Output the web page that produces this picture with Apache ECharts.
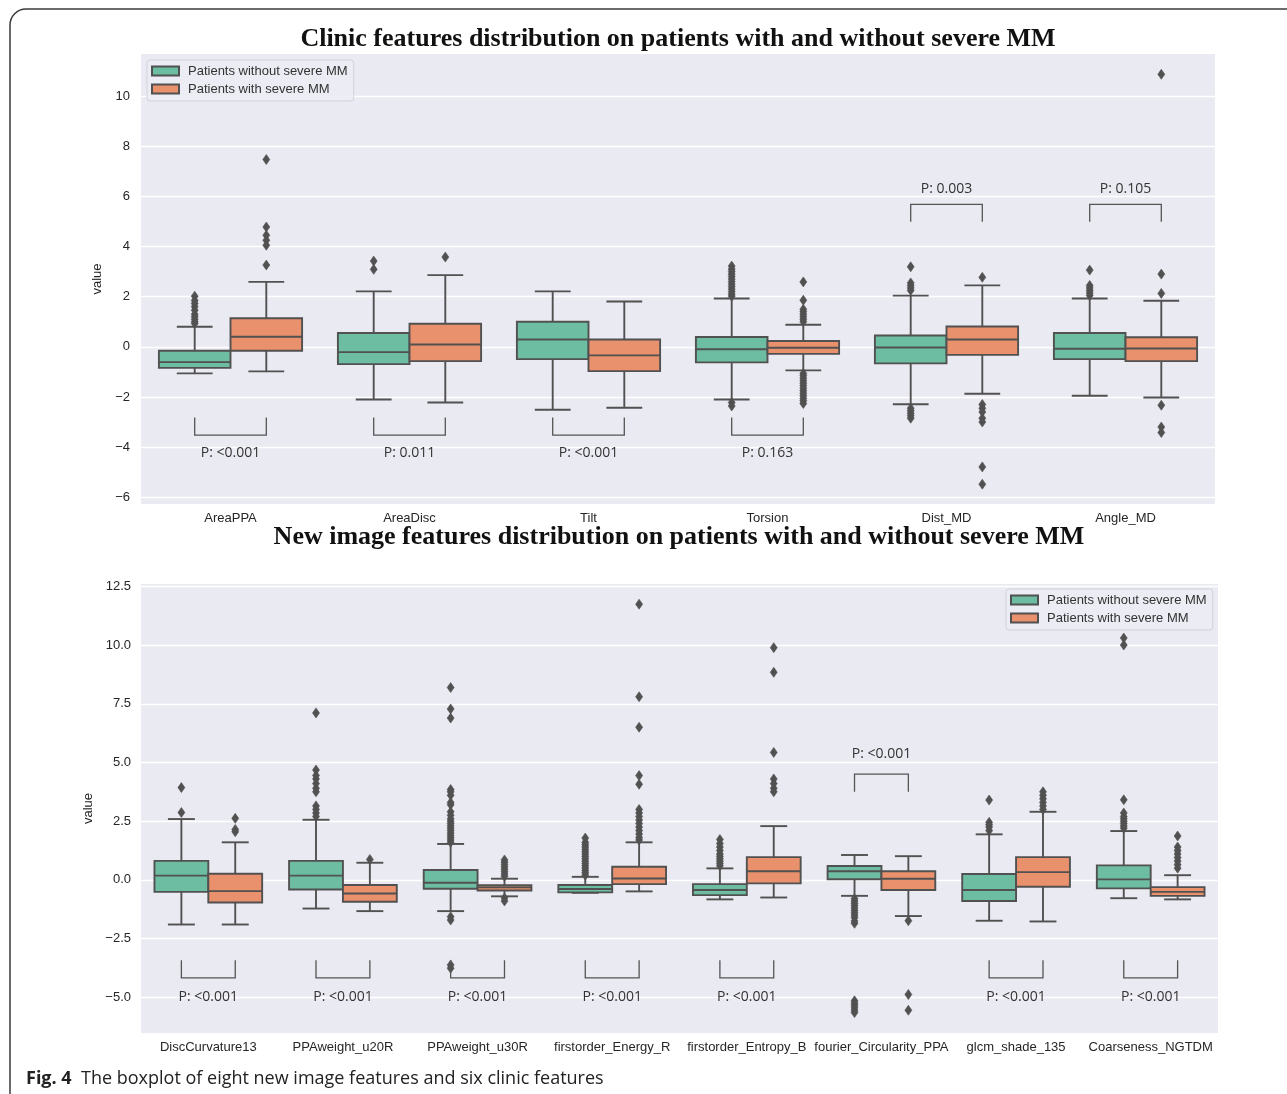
<!DOCTYPE html>
<html><head><meta charset="utf-8">
<script src="https://cdn.jsdelivr.net/npm/echarts@6/dist/echarts.min.js"></script>
<style>html,body{margin:0;padding:0;background:#fff}#c{width:1287px;height:1094px}</style>
</head><body><div id="c"></div>
<script>
// ---------- DATA ----------
const clinicCategories = ['AreaPPA','AreaDisc','Tilt','Torsion','Dist_MD','Angle_MD'];
// [lower whisker, Q1, median, Q3, upper whisker]
const clinicWithout = [
  [-1.06,-0.84,-0.61,-0.16,0.80],
  [-2.10,-0.69,-0.21,0.55,2.21],
  [-2.51,-0.49,0.29,1.00,2.21],
  [-2.10,-0.62,-0.10,0.39,1.93],
  [-2.29,-0.66,-0.03,0.45,2.04],
  [-1.95,-0.49,-0.08,0.55,1.93]
];
const clinicWith = [
  [-0.98,-0.16,0.40,1.14,2.59],
  [-2.22,-0.57,0.09,0.92,2.86],
  [-2.43,-0.97,-0.34,0.29,1.81],
  [-0.94,-0.28,-0.04,0.23,0.88],
  [-1.87,-0.32,0.29,0.81,2.45],
  [-2.02,-0.57,-0.07,0.38,1.84]
];
const clinicWithoutOutliers = [
  [2.02,1.85,1.73,1.6,1.46,1.3,1.2,1.1,1.0,0.93],
  [3.42,3.09],
  [],
  [3.22,3.1,3.0,2.9,2.8,2.7,2.6,2.5,2.4,2.3,2.2,2.1,2.02,-2.22,-2.36],
  [3.19,2.55,2.45,2.35,2.25,-2.45,-2.55,-2.65,-2.75,-2.85],
  [3.06,2.45,2.35,2.25,2.15,2.05]
];
const clinicWithOutliers = [
  [7.47,4.78,4.45,4.25,4.05,3.26],
  [3.58],
  [],
  [2.59,1.86,1.5,1.4,1.3,1.2,1.1,1.0,-1.06,-1.15,-1.25,-1.35,-1.45,-1.55,-1.65,-1.75,-1.85,-1.95,-2.05,-2.15,-2.26],
  [2.77,-2.3,-2.45,-2.6,-2.85,-3.0,-4.79,-5.48],
  [10.87,2.90,2.13,-2.33,-3.2,-3.42]
];
const clinicPValues = ['P: <0.001','P: 0.011','P: <0.001','P: 0.163','P: 0.003','P: 0.105'];
const clinicYTicks = [-6,-4,-2,0,2,4,6,8,10];

const imageCategories = ['DiscCurvature13','PPAweight_u20R','PPAweight_u30R','firstorder_Energy_R','firstorder_Entropy_B','fourier_Circularity_PPA','glcm_shade_135','Coarseness_NGTDM'];
const imageWithout = [
  [-1.90,-0.51,0.18,0.81,2.59],
  [-1.22,-0.41,0.18,0.81,2.56],
  [-1.33,-0.38,-0.12,0.42,1.53],
  [-0.55,-0.53,-0.39,-0.22,0.13],
  [-0.83,-0.65,-0.43,-0.18,0.49],
  [-0.68,0.03,0.37,0.59,1.06],
  [-1.74,-0.90,-0.43,0.25,1.94],
  [-0.78,-0.36,0.02,0.62,2.08]
];
const imageWith = [
  [-1.90,-0.96,-0.48,0.26,1.60],
  [-1.33,-0.93,-0.58,-0.22,0.73],
  [-0.70,-0.45,-0.32,-0.23,0.05],
  [-0.49,-0.18,0.06,0.56,1.60],
  [-0.75,-0.15,0.37,0.97,2.29],
  [-1.54,-0.43,0.05,0.37,1.01],
  [-1.77,-0.29,0.33,0.97,2.90],
  [-0.83,-0.68,-0.51,-0.31,0.20]
];
const imageWithoutOutliers = [
  [3.93,2.87],
  [7.11,4.68,4.45,4.3,4.1,3.9,3.75,3.15,3.0,2.85,2.7],
  [8.19,7.28,6.89,3.85,3.75,3.6,3.3,3.2,2.9,2.75,2.6,2.5,2.4,2.3,2.2,2.1,2.0,1.9,1.8,1.7,1.6,-1.57,-1.71,-3.62,-3.76],
  [1.78,1.6,1.5,1.4,1.3,1.2,1.1,1.0,0.9,0.8,0.7,0.6,0.5,0.4,0.3,0.2],
  [1.72,1.55,1.4,1.25,1.1,1.0,0.9,0.8,0.7,0.6],
  [-0.8,-0.9,-1.0,-1.1,-1.2,-1.3,-1.4,-1.5,-1.6,-1.75,-1.85,-5.15,-5.25,-5.35,-5.45,-5.55,-5.65],
  [3.40,2.45,2.35,2.25,2.1],
  [10.3,10.0,3.41,2.85,2.7,2.6,2.5,2.4,2.3,2.2]
];
const imageWithOutliers = [
  [2.62,2.15,2.05],
  [0.87],
  [0.85,0.75,0.65,0.55,0.45,0.35,0.25,0.15,-0.77,-0.9],
  [11.74,7.80,6.50,4.44,4.07,3.0,2.85,2.7,2.55,2.4,2.25,2.1,1.95,1.8,1.7],
  [9.89,8.84,5.43,4.3,4.1,3.9,3.75],
  [-1.74,-4.88,-5.55],
  [3.75,3.6,3.45,3.3,3.15,3.0],
  [1.87,1.4,1.25,1.1,0.95,0.8,0.65,0.5]
];
const imagePValues = ['P: <0.001','P: <0.001','P: <0.001','P: <0.001','P: <0.001','P: <0.001','P: <0.001','P: <0.001'];
const imageYTicks = [-5,-2.5,0,2.5,5,7.5,10,12.5];

const seriesNames = ['Patients without severe MM','Patients with severe MM'];

// ---------- LAYOUT / STYLE ----------
const GREEN = '#6dbda2', ORANGE = '#e9916c', EDGE = '#515151';
const clinicBracketSide = ['below','below','below','below','above','above'];
const imageBracketSide = ['below','below','below','below','below','above','below','below'];
const clinicLevels = {below:{tip:-2.82,bar:-3.52,text:-4.23}, above:{tip:4.99,bar:5.68,text:6.30}};
const imageLevels = {below:{tip:-3.42,bar:-4.17,text:-4.98}, above:{tip:3.75,bar:4.50,text:5.35}};

function boxRender(side){
  return function(params, api){
    const cat = api.value(0);
    const lo = api.coord([cat, api.value(1)]);
    const q1 = api.coord([cat, api.value(2)]);
    const md = api.coord([cat, api.value(3)]);
    const q3 = api.coord([cat, api.value(4)]);
    const hi = api.coord([cat, api.value(5)]);
    const band = api.size([1,0])[0];
    const bw = band*0.4;
    const cx = lo[0] + side*band*0.2;
    const x0 = cx - bw/2;
    const cap = bw*0.25;
    const ls = {stroke:EDGE, lineWidth:1.9};
    return {type:'group', children:[
      {type:'line', shape:{x1:cx,y1:q3[1],x2:cx,y2:hi[1]}, style:ls},
      {type:'line', shape:{x1:cx,y1:q1[1],x2:cx,y2:lo[1]}, style:ls},
      {type:'line', shape:{x1:cx-cap,y1:hi[1],x2:cx+cap,y2:hi[1]}, style:ls},
      {type:'line', shape:{x1:cx-cap,y1:lo[1],x2:cx+cap,y2:lo[1]}, style:ls},
      {type:'rect', shape:{x:x0,y:q3[1],width:bw,height:q1[1]-q3[1]}, style:{fill: side<0?GREEN:ORANGE, stroke:EDGE, lineWidth:1.9}},
      {type:'line', shape:{x1:x0,y1:md[1],x2:x0+bw,y2:md[1]}, style:ls}
    ]};
  };
}
function flierRender(side){
  return function(params, api){
    const c = api.coord([api.value(0), api.value(1)]);
    const band = api.size([1,0])[0];
    const x = c[0] + side*band*0.2, y = c[1];
    return {type:'polygon', shape:{points:[[x,y-5],[x+3.5,y],[x,y+5],[x-3.5,y]]}, style:{fill:EDGE, stroke:EDGE, lineWidth:0.6}};
  };
}
function annotRender(labels, sides, levels){
  return function(params, api){
    const i = api.value(0);
    const L = levels[sides[params.dataIndex]];
    const band = api.size([1,0])[0];
    const c = api.coord([i, L.bar]);
    const tip = api.coord([i, L.tip])[1];
    const ty = api.coord([i, L.text])[1];
    const xl = c[0]-band*0.2, xr = c[0]+band*0.2;
    return {type:'group', children:[
      {type:'polyline', shape:{points:[[xl,tip],[xl,c[1]],[xr,c[1]],[xr,tip]]}, style:{stroke:'#555', lineWidth:1.3, fill:null}},
      {type:'text', x:c[0], y:ty, style:{text:labels[params.dataIndex], align:'center', verticalAlign:'middle', fontSize:14, fontFamily:'Open Sans', fill:'#333'}}
    ]};
  };
}
function flat(outl){ const r=[]; outl.forEach((arr,i)=>arr.forEach(v=>r.push([i,v]))); return r; }

function chartSeries(g, without, withS, outW, outWith, pvals, sides, levels){
  return [
    {type:'custom', name:seriesNames[0], xAxisIndex:g, yAxisIndex:g, renderItem:boxRender(-1),
     itemStyle:{color:GREEN, borderColor:EDGE, borderWidth:1}, encode:{x:0,y:[1,2,3,4,5]},
     data:without.map((s,i)=>[i].concat(s)), z:3},
    {type:'custom', name:seriesNames[1], xAxisIndex:g, yAxisIndex:g, renderItem:boxRender(1),
     itemStyle:{color:ORANGE, borderColor:EDGE, borderWidth:1}, encode:{x:0,y:[1,2,3,4,5]},
     data:withS.map((s,i)=>[i].concat(s)), z:3},
    {type:'custom', name:'fliers-a'+g, xAxisIndex:g, yAxisIndex:g, renderItem:flierRender(-1), encode:{x:0,y:1}, data:flat(outW), z:4},
    {type:'custom', name:'fliers-b'+g, xAxisIndex:g, yAxisIndex:g, renderItem:flierRender(1), encode:{x:0,y:1}, data:flat(outWith), z:4},
    {type:'custom', name:'annot'+g, xAxisIndex:g, yAxisIndex:g, renderItem:annotRender(pvals, sides, levels), encode:{x:0,y:1}, data:pvals.map((p,i)=>[i,0]), z:5, clip:false}
  ];
}

const minus = v => (v<0?'\u2212':'') + Math.abs(v);
const labelFont = {fontFamily:'Liberation Sans', fontSize:13, color:'#262626'};

const option = {
  animation:false,
  grid:[
    {left:141, top:54, width:1074, height:450, show:true, backgroundColor:'#eaeaf2', borderWidth:0},
    {left:141, top:584, width:1077, height:449, show:true, backgroundColor:'#eaeaf2', borderWidth:0}
  ],
  xAxis:[
    {type:'category', gridIndex:0, data:clinicCategories, axisLine:{show:false}, axisTick:{show:false}, splitLine:{show:false},
     axisLabel:Object.assign({margin:8, interval:0}, labelFont)},
    {type:'category', gridIndex:1, data:imageCategories, axisLine:{show:false}, axisTick:{show:false}, splitLine:{show:false},
     axisLabel:Object.assign({margin:8, interval:0}, labelFont)}
  ],
  yAxis:[
    {type:'value', gridIndex:0, min:-6.27, max:11.68, name:'value', nameLocation:'middle', nameGap:27,
     nameTextStyle:{fontFamily:'Liberation Sans', fontSize:13, color:'#262626'},
     axisLine:{show:false}, axisTick:{show:false, customValues:clinicYTicks},
     axisLabel:Object.assign({margin:11, customValues:clinicYTicks, formatter:minus}, labelFont),
     splitLine:{show:true, lineStyle:{color:'#ffffff', width:1.4}}},
    {type:'value', gridIndex:1, min:-6.52, max:12.60, name:'value', nameLocation:'middle', nameGap:37,
     nameTextStyle:{fontFamily:'Liberation Sans', fontSize:13, color:'#262626'},
     axisLine:{show:false}, axisTick:{show:false, customValues:imageYTicks},
     axisLabel:Object.assign({margin:10, customValues:imageYTicks, formatter:v=>(v<0?'\u2212':'')+Math.abs(v).toFixed(1)}, labelFont),
     splitLine:{show:true, lineStyle:{color:'#ffffff', width:1.4}}}
  ],
  legend:[
    {data:seriesNames, orient:'vertical', left:147, top:60, icon:'rect', itemWidth:27, itemHeight:9, itemGap:4,
     padding:[4,6,5,4], backgroundColor:'rgba(236,236,244,0.9)', borderColor:'#d2d2da', borderWidth:1, borderRadius:3,
     textStyle:{fontFamily:'Liberation Sans', fontSize:13, color:'#333', lineHeight:14, padding:[0,0,0,4]}, selectedMode:false},
    {data:seriesNames, orient:'vertical', left:1006, top:589, icon:'rect', itemWidth:27, itemHeight:9, itemGap:4,
     padding:[4,6,5,4], backgroundColor:'rgba(236,236,244,0.9)', borderColor:'#d2d2da', borderWidth:1, borderRadius:3,
     textStyle:{fontFamily:'Liberation Sans', fontSize:13, color:'#333', lineHeight:14, padding:[0,0,0,4]}, selectedMode:false}
  ],
  series: chartSeries(0, clinicWithout, clinicWith, clinicWithoutOutliers, clinicWithOutliers, clinicPValues, clinicBracketSide, clinicLevels)
    .concat(chartSeries(1, imageWithout, imageWith, imageWithoutOutliers, imageWithOutliers, imagePValues, imageBracketSide, imageLevels)),
  graphic:[
    {type:'polyline', shape:{points:[[10,1094],[10,25]]}, style:{stroke:'#3a3a3a', lineWidth:1.5, fill:null}},
    {type:'arc', shape:{cx:26, cy:25, r:16, startAngle:Math.PI, endAngle:Math.PI*1.5}, style:{stroke:'#3a3a3a', lineWidth:1.5, fill:null}},
    {type:'polyline', shape:{points:[[26,9],[1287,9]]}, style:{stroke:'#3a3a3a', lineWidth:1.5, fill:null}},
    {type:'text', x:678, y:39, style:{text:'Clinic features distribution on patients with and without severe MM', align:'center', verticalAlign:'middle',
      fontFamily:'Liberation Serif', fontWeight:'bold', fontSize:26, fill:'#111'}},
    {type:'text', x:679, y:537, style:{text:'New image features distribution on patients with and without severe MM', align:'center', verticalAlign:'middle',
      fontFamily:'Liberation Serif', fontWeight:'bold', fontSize:26, fill:'#111'}},
    {type:'text', x:26, y:1079, style:{text:'{b|Fig. 4}  The boxplot of eight new image features and six clinic features', verticalAlign:'middle',
      fontFamily:'Open Sans', fontSize:18, fill:'#222', rich:{b:{fontFamily:'Open Sans', fontWeight:'bold', fontSize:18, fill:'#222'}}}}
  ]
};
const chart = echarts.init(document.getElementById('c'), null, {renderer:'canvas'});
chart.setOption(option);
</script></body></html>
